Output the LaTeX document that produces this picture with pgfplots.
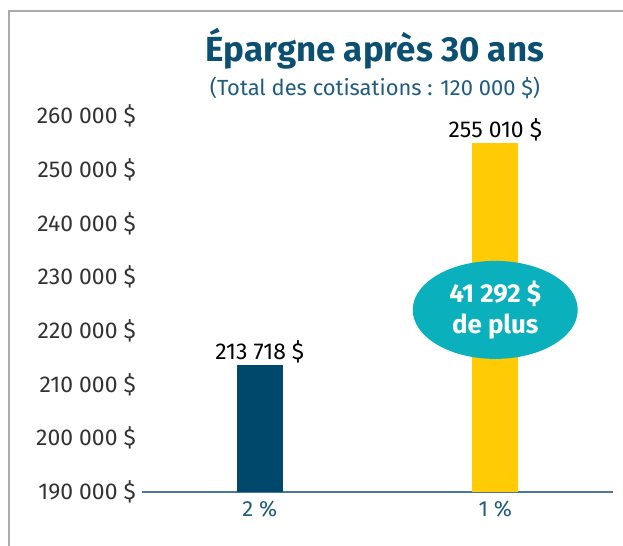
\documentclass[border=0pt]{standalone}
\usepackage{pgfplots}
\pgfplotsset{compat=1.18}
\usetikzlibrary{shapes.geometric}
\usepackage{fontspec}
\setmainfont{Fira Sans}
\definecolor{titleblue}{HTML}{0B4F71}
\definecolor{subblue}{HTML}{1F5C80}
\definecolor{navybar}{HTML}{00486B}
\definecolor{yellowbar}{HTML}{FFCB05}
\definecolor{tealell}{HTML}{0AB1BC}
\definecolor{axisblue}{HTML}{4A7899}
\definecolor{ticktext}{HTML}{333333}
\definecolor{bordergray}{HTML}{AAAAAA}
\begin{document}
\begin{tikzpicture}[x=1bp,y=1bp]
\useasboundingbox (-142,-54) rectangle (481,492);
\fill[white] (-142,-54) rectangle (481,492);
\draw[bordergray, line width=2bp] (-133,-60) -- (-133,481) -- (490,481);
\begin{axis}[
  at={(0,0)}, anchor=south west,
  scale only axis,
  width=471bp, height=376bp,
  xmin=-0.5, xmax=1.5,
  ymin=190000, ymax=260000,
  xtick={0,1},
  xticklabels={2 \%,1 \%},
  axis x line*=bottom,
  axis y line=none,
  x axis line style={axisblue, line width=2bp, -},
  major tick length=0pt,
  tick style={draw=none},
  xticklabel style={font=\fontsize{22}{26}\selectfont, text=subblue, yshift=-5bp},
  clip=false,
  ybar, bar width=46bp,
  bar shift=0pt,
  every node near coord/.append style={font=\fontsize{23}{27}\selectfont, text=black, yshift=-2bp},
]
\addplot[fill=navybar, draw=none,
  nodes near coords={213 718 \$}] coordinates {(0,213718)};
\addplot[fill=yellowbar, draw=none,
  nodes near coords={255 010 \$}] coordinates {(1,255010)};
\node[ellipse, fill=tealell, minimum width=165bp, minimum height=98bp, inner sep=0pt,
  text=white, font=\fontsize{26}{31}\selectfont\bfseries, align=center]
  at (axis cs:1,223900) {41 292 \$\\de plus};
\end{axis}
\foreach \v/\l in {0/190,1/200,2/210,3/220,4/230,5/240,6/250,7/260}{
  \node[anchor=east, text=ticktext, font=\fontsize{23}{27}\selectfont, inner sep=0pt]
    at (-6, \v*53.714) {\l{} 000 \$};
}
\node[text=titleblue, font=\fontsize{35}{42}\selectfont\bfseries] at (233,443) {Épargne après 30 ans};
\node[text=subblue, font=\fontsize{22}{26}\selectfont] at (233,404) {(Total des cotisations : 120 000 \$)};
\end{tikzpicture}
\end{document}
